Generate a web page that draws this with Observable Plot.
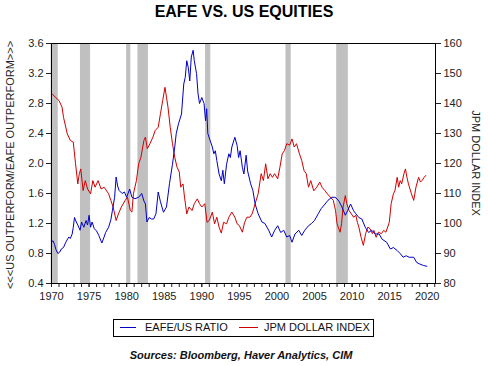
<!DOCTYPE html>
<html><head><meta charset="utf-8">
<script src="https://cdn.jsdelivr.net/npm/d3@7"></script>
<script src="https://cdn.jsdelivr.net/npm/@observablehq/plot@0.6"></script>
<style>
body{margin:0;background:#fff;font-family:"Liberation Sans",Arial,sans-serif;}
#wrap{position:relative;width:488px;height:366px;overflow:hidden;background:#fff}
#chart{position:absolute;left:0;top:0}
.abs{position:absolute;white-space:nowrap}
#title{left:0;width:488px;top:3px;text-align:center;font-weight:bold;font-size:16px;color:#000}
#ylab{left:10px;top:165px;font-size:11px;color:#222;transform:translate(-50%,-50%) rotate(-90deg)}
#y2lab{left:476px;top:163px;font-size:11px;color:#222;transform:translate(-50%,-50%) rotate(90deg)}
#legend{left:113px;top:319px;width:259px;height:16px;border:1px solid #000;font-size:11px;color:#111}
#legend .sw{position:absolute;top:7px;height:0;border-top:1px solid}
#legend .tx{position:absolute;top:1px}
#source{left:0;width:482px;top:349px;text-align:center;font-weight:bold;font-style:italic;font-size:11px;color:#111}
</style></head><body>
<div id="wrap">
  <div id="chart"></div>
  <div class="abs" id="title">EAFE VS. US EQUITIES</div>
  <div class="abs" id="ylab">&lt;&lt;&lt;US OUTPERFORM/EAFE OUTPERFORM&gt;&gt;&gt;</div>
  <div class="abs" id="y2lab">JPM DOLLAR INDEX</div>
  <div class="abs" id="legend">
    <div class="sw" style="left:6px;width:16px;border-color:#0000c8"></div>
    <div class="tx" style="left:31px">EAFE/US RATIO</div>
    <div class="sw" style="left:125px;width:19px;border-color:#d00000"></div>
    <div class="tx" style="left:150px">JPM DOLLAR INDEX</div>
  </div>
  <div class="abs" id="source">Sources: Bloomberg, Haver Analytics, CIM</div>
</div>
<script>
// EAFE/US ratio (left axis)
const ratioYears = [1970.0,1970.2,1970.4,1970.6,1970.85,1971.1,1971.3,1971.6,1971.9,1972.3,1972.5,1972.75,1972.9,1973.06,1973.3,1973.5,1973.8,1974.0,1974.3,1974.6,1974.8,1975.0,1975.2,1975.4,1975.7,1976.0,1976.3,1976.7,1977.0,1977.2,1977.6,1977.9,1978.1,1978.4,1978.6,1978.8,1979.0,1979.4,1979.7,1980.0,1980.4,1980.7,1981.1,1981.6,1982.0,1982.3,1982.5,1982.7,1983.0,1983.3,1983.6,1983.9,1984.2,1984.5,1984.9,1985.3,1985.7,1985.9,1986.1,1986.4,1986.6,1986.9,1987.3,1987.6,1987.8,1988.0,1988.2,1988.4,1988.6,1988.85,1989.0,1989.3,1989.5,1989.7,1990.0,1990.3,1990.5,1990.65,1990.8,1991.1,1991.4,1991.6,1991.8,1992.0,1992.3,1992.6,1992.8,1993.0,1993.3,1993.6,1993.8,1994.0,1994.4,1994.7,1994.9,1995.1,1995.4,1995.6,1995.9,1996.1,1996.5,1996.8,1997.1,1997.5,1998.0,1998.4,1998.9,1999.3,1999.7,2000.1,2000.5,2000.9,2001.3,2001.7,2002.0,2002.4,2002.9,2003.3,2003.7,2004.2,2004.6,2005.0,2005.5,2005.9,2006.4,2006.8,2007.3,2007.7,2008.0,2008.3,2008.65,2009.1,2009.4,2009.8,2010.2,2010.5,2010.9,2011.3,2011.75,2012.2,2012.6,2013.1,2013.6,2014.0,2014.6,2015.1,2015.5,2016.0,2016.4,2016.8,2017.2,2017.6,2018.2,2018.6,2019.0,2019.5,2019.95];
const ratioValues = [0.95,0.97,0.92,0.85,0.80,0.82,0.86,0.88,0.95,1.02,1.00,1.06,1.15,1.28,1.22,1.18,1.11,1.22,1.15,1.24,1.18,1.31,1.15,1.22,1.13,1.10,1.04,0.94,1.02,1.08,1.15,1.25,1.37,1.55,1.82,1.70,1.64,1.60,1.62,1.55,1.66,1.55,1.53,1.55,1.60,1.50,1.46,1.22,1.28,1.26,1.26,1.33,1.62,1.49,1.35,1.42,1.73,1.86,1.99,2.22,2.40,2.53,2.66,3.06,3.15,3.37,3.28,3.10,3.42,3.51,3.37,3.20,2.93,2.80,2.88,2.80,2.57,2.73,2.40,2.31,2.22,2.13,2.17,2.04,1.86,1.77,1.91,1.73,1.99,2.13,2.08,2.22,2.35,2.24,2.08,2.17,1.95,1.86,2.11,1.90,1.73,1.64,1.46,1.33,1.22,1.20,1.11,1.02,1.11,1.17,1.08,1.11,1.02,1.04,0.95,1.06,1.11,1.04,1.11,1.17,1.20,1.24,1.33,1.40,1.46,1.51,1.55,1.55,1.53,1.49,1.42,1.31,1.37,1.46,1.37,1.33,1.28,1.26,1.15,1.08,1.11,1.06,1.06,0.99,0.95,0.86,0.88,0.84,0.80,0.75,0.77,0.75,0.75,0.68,0.66,0.64,0.63];

// JPM dollar index (right axis)
const dollarYears = [1970.1,1970.5,1971.0,1971.4,1971.6,1972.1,1972.5,1972.9,1973.2,1973.5,1973.7,1973.9,1974.2,1974.5,1974.8,1975.2,1975.5,1975.8,1976.2,1976.6,1977.0,1977.6,1977.9,1978.2,1978.6,1978.9,1979.3,1979.8,1980.1,1980.5,1980.7,1980.9,1981.3,1981.6,1981.9,1982.3,1982.5,1982.75,1983.1,1983.5,1983.8,1984.2,1984.5,1984.8,1985.1,1985.3,1985.5,1985.8,1986.1,1986.4,1986.7,1987.0,1987.2,1987.5,1987.7,1988.0,1988.3,1988.7,1989.0,1989.4,1989.7,1990.0,1990.4,1990.7,1991.0,1991.4,1991.7,1992.0,1992.3,1992.6,1992.9,1993.3,1993.6,1994.0,1994.4,1994.7,1995.0,1995.4,1995.7,1996.0,1996.4,1996.7,1997.1,1997.5,1997.9,1998.2,1998.5,1998.8,1999.1,1999.4,1999.7,2000.1,2000.4,2000.7,2001.0,2001.3,2001.7,2002.0,2002.3,2002.6,2003.0,2003.3,2003.6,2003.9,2004.2,2004.5,2004.9,2005.3,2005.7,2006.0,2006.4,2006.7,2007.1,2007.5,2007.8,2008.0,2008.4,2008.6,2008.8,2009.1,2009.3,2009.6,2009.9,2010.2,2010.5,2010.7,2010.9,2011.2,2011.5,2011.8,2012.1,2012.4,2012.7,2012.9,2013.2,2013.5,2013.9,2014.2,2014.5,2014.95,2015.2,2015.5,2015.7,2016.0,2016.2,2016.4,2016.6,2016.9,2017.1,2017.3,2017.5,2017.9,2018.2,2018.5,2018.85,2019.1,2019.3,2019.6,2019.8];
const dollarValues = [143.2,142.1,141.0,138.8,135.4,129.9,127.7,127.1,119.9,113.2,116.6,118.2,111.0,114.3,111.5,109.9,114.3,112.1,114.3,111.5,112.1,109.9,107.7,105.5,101.0,103.2,105.5,107.7,108.8,104.3,103.8,109.9,114.3,119.9,122.1,127.7,128.8,124.9,126.6,128.8,131.0,132.1,136.6,141.0,145.4,142.1,138.8,132.1,126.6,122.1,118.8,117.2,112.1,113.2,108.8,103.2,105.5,104.3,106.6,108.2,106.6,105.5,106.6,100.4,101.0,103.8,99.9,102.1,98.8,96.8,100.4,99.9,102.1,103.8,102.1,99.9,99.3,97.1,100.4,102.1,102.1,103.2,106.6,109.9,116.6,114.3,119.9,114.9,116.6,115.4,116.6,114.9,118.8,123.2,124.3,126.6,126.1,128.2,125.5,126.6,123.2,121.0,117.7,116.6,112.1,114.3,110.9,112.1,113.8,112.1,110.9,109.9,108.8,107.7,104.3,99.9,97.1,99.9,105.5,109.3,106.6,104.3,103.2,102.1,102.7,100.4,98.8,95.4,92.7,96.6,98.8,98.2,96.6,97.7,95.4,97.1,96.6,97.7,97.1,100.4,106.6,109.9,110.9,115.4,112.1,114.3,113.2,116.6,118.2,115.4,113.2,109.9,107.7,112.1,115.4,113.8,114.3,115.4,116.0];

// US recessions (shaded)
const recessionStart = [1969.95,1973.85,1980.0,1981.5,1990.5,2001.2,2007.95];
const recessionEnd   = [1970.9,1975.2,1980.55,1982.9,1991.2,2001.9,2009.5];

const leftTicks  = [0.4,0.8,1.2,1.6,2.0,2.4,2.8,3.2,3.6];
const rightTicks = [80,90,100,110,120,130,140,150,160];
const yearLabels = [1970,1975,1980,1985,1990,1995,2000,2005,2010,2015,2020];
const yearTicks  = d3.range(1970, 2022);

// right scale (80..160) mapped onto left scale (0.4..3.6)
const toLeft = v => 0.4 + (v - 80) * 3.2 / 80;
const fromLeft = d => Math.round((d - 0.4) * 80 / 3.2 + 80);

const ratio = ratioYears.map((y, i) => ({year: y, value: ratioValues[i]}));
const dollar = dollarYears.map((y, i) => ({year: y, value: dollarValues[i]}));
const recessions = recessionStart.map((s, i) => ({start: s, end: recessionEnd[i]}));

const chart = Plot.plot({
  width: 488, height: 310,
  marginTop: 43, marginLeft: 51, marginRight: 53, marginBottom: 27,
  style: {fontFamily: "'Liberation Sans', Arial, sans-serif", fontSize: "11px", color: "#222", background: "transparent"},
  x: {domain: [1970, 2021.1]},
  y: {domain: [0.4, 3.6]},
  marks: [
    Plot.rect(recessions, {x1: "start", x2: "end", y1: 0.4, y2: 3.6, fill: "#c0c0c0"}),
    Plot.line(dollar, {x: "year", y: d => toLeft(d.value), stroke: "#d00000", strokeWidth: 1}),
    Plot.line(ratio, {x: "year", y: "value", stroke: "#0000c8", strokeWidth: 1}),
    Plot.axisY({ticks: leftTicks, tickFormat: d => d.toFixed(1), tickSize: 5, tickPadding: 3, label: null}),
    Plot.axisY(rightTicks.map(toLeft), {anchor: "right", tickFormat: fromLeft, tickSize: 5, tickPadding: 3, label: null}),
    Plot.axisX({ticks: yearTicks, tickFormat: () => "", tickSize: 4, label: null}),
    Plot.axisX({ticks: yearLabels, tickFormat: d => String(d), tickSize: 4, tickPadding: 5, label: null}),
    Plot.frame({stroke: "#000"})
  ]
});
document.getElementById("chart").appendChild(chart);
</script>
</body></html>
